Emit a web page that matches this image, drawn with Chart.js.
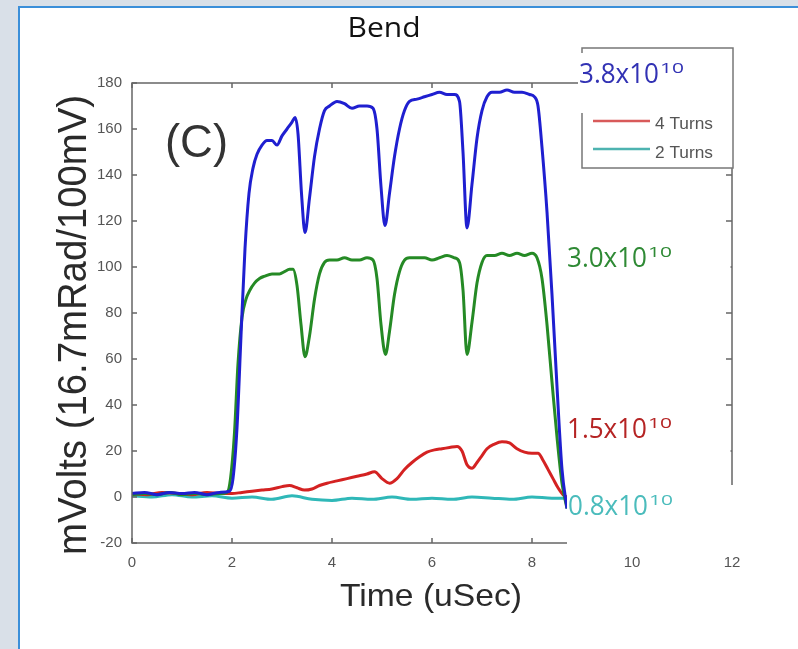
<!DOCTYPE html>
<html><head><meta charset="utf-8">
<script src="https://cdn.jsdelivr.net/npm/chart.js@4.4.1/dist/chart.umd.min.js"></script>
<style>html,body{margin:0;padding:0;background:#d9e0e8;overflow:hidden}canvas{display:block}</style>
</head><body>
<canvas id="c" width="798" height="649"></canvas>
<script>
// ---- data ----
const blueT = [0,0.25,0.5,0.75,1.0,1.25,1.5,1.75,1.95,2.02,2.1,2.18,2.26,2.34,2.42,2.5,2.6,2.7,2.8,2.9,3.0,3.1,3.2,3.26,3.32,3.39,3.46,3.55,3.65,3.75,3.85,3.95,4.1,4.25,4.4,4.55,4.7,4.82,4.9,4.98,5.06,5.15,5.25,5.35,5.45,5.55,5.7,5.85,6.0,6.15,6.3,6.45,6.55,6.62,6.7,6.8,6.9,7.0,7.1,7.2,7.35,7.5,7.65,7.8,7.95,8.05,8.12,8.2,8.3,8.4,8.5,8.6,8.7];
const blueV = [1.5,2,1,2,1.5,2,1,2,2.5,8,30,70,108,132,143,149,153,155,155,153,157,160,163,165,158,132,115,130,148,160,168,170,172,171,169,170,170,169,160,135,118,132,148,160,168,172,173,174,175,176,175,175,172,150,117,136,156,168,174,176,176,177,176,176,175,174,170,152,124,88,48,12,-5];
const greenT = [0,0.25,0.5,0.75,1.0,1.25,1.5,1.75,1.9,1.97,2.05,2.12,2.2,2.28,2.36,2.45,2.55,2.65,2.8,2.95,3.05,3.15,3.22,3.3,3.38,3.46,3.55,3.65,3.75,3.85,3.95,4.1,4.25,4.4,4.55,4.7,4.82,4.9,4.98,5.07,5.15,5.25,5.35,5.45,5.55,5.7,5.85,6.0,6.15,6.3,6.45,6.55,6.62,6.7,6.8,6.9,7.0,7.1,7.25,7.4,7.55,7.7,7.85,8.0,8.1,8.2,8.3,8.4,8.5,8.6,8.7];
const greenV = [1,1.5,1,2,1,1.5,1,1.5,2,8,28,58,78,86,90,93,95,96,97,97,98,99,99,92,75,61,70,86,97,102,103,103,104,103,103,104,103,95,75,62,72,88,98,103,104,104,104,103,104,105,104,102,90,62,76,93,102,105,105,106,105,106,105,106,104,95,75,50,26,6,-5];
const redT = [0,0.3,0.6,0.9,1.2,1.5,1.8,2.0,2.2,2.4,2.6,2.8,3.0,3.15,3.3,3.45,3.6,3.75,3.9,4.1,4.3,4.5,4.7,4.85,5.0,5.15,5.3,5.45,5.6,5.75,5.9,6.05,6.2,6.35,6.5,6.6,6.7,6.8,6.9,7.0,7.1,7.25,7.4,7.55,7.7,7.85,8.0,8.12,8.22,8.32,8.42,8.52,8.62,8.7];
const redV = [1.5,1,2,1.5,1,2,1.5,1.5,2,2.5,3,3.5,4.5,5,4,3,3.5,5,6,7,8,9,10,11,8,6,8,12,15,17.5,19.5,20.5,21,21.5,22,20,14,12.5,15,18,21,23,24,23.5,21,19.5,19,19,16,12,8,4,1,0];
const cyanT = [0,0.4,0.8,1.2,1.6,2.0,2.4,2.8,3.2,3.6,4.0,4.4,4.8,5.2,5.6,6.0,6.4,6.8,7.2,7.6,8.0,8.4,8.7];
const cyanV = [0.5,0,1,0,0.5,-0.5,0,-1,0.5,-1,-1.5,-0.5,-1,0,-1,-0.5,-1,0,-0.5,-1,0,-0.5,-0.5];

const xTickValues = [0,2,4,6,8,10,12];
const yTickValues = [-20,0,20,40,60,80,100,120,140,160,180];
const legendLabels = ["4 Turns","2 Turns"];
const annotationMantissa = ["3.8","3.0","1.5","0.8"];
const annotationExp = ["10","10","10","10"];
const titleText = "Bend";
const xTitle = "Time (uSec)";
const yTitle = "mVolts (16.7mRad/100mV)";
const panelLabel = "(C)";

function pts(t, v){ return t.map((x,i)=>({x:x, y:v[i]})); }

function fitText(ctx, txt, x, y, font, w, align){
  ctx.save();
  ctx.font = font;
  const m = ctx.measureText(txt).width;
  const s = w / m;
  ctx.translate(x, y);
  ctx.scale(s, 1);
  ctx.textAlign = 'left';
  ctx.textBaseline = 'alphabetic';
  ctx.fillText(txt, align === 'center' ? -m/2 : 0, 0);
  ctx.restore();
}

const bgPlugin = {
  id: 'bg',
  beforeDraw(chart){
    const ctx = chart.ctx;
    ctx.save();
    ctx.fillStyle = '#d9e0e8';
    ctx.fillRect(0,0,chart.width,chart.height);
    ctx.fillStyle = '#ffffff';
    ctx.fillRect(19,7,chart.width,chart.height);
    ctx.strokeStyle = '#3b8fd9';
    ctx.lineWidth = 2;
    ctx.beginPath();
    ctx.moveTo(19, chart.height+5); ctx.lineTo(19,7); ctx.lineTo(chart.width+5,7);
    ctx.stroke();
    ctx.restore();
  }
};

const annFont = '"Open Sans", "Noto Sans", sans-serif';

const overlayPlugin = {
  id: 'overlay',
  afterDraw(chart){
    const ctx = chart.ctx;
    const a = chart.chartArea;
    const xs = chart.scales.x, ys = chart.scales.y;
    ctx.save();
    // frame
    ctx.strokeStyle = '#666';
    ctx.lineWidth = 1.5;
    ctx.strokeRect(a.left, a.top, a.right-a.left, a.bottom-a.top);
    // inward ticks
    ctx.beginPath();
    xTickValues.forEach(v=>{
      const px = xs.getPixelForValue(v);
      ctx.moveTo(px, a.bottom); ctx.lineTo(px, a.bottom-5);
      ctx.moveTo(px, a.top); ctx.lineTo(px, a.top+5);
    });
    yTickValues.forEach(v=>{
      const py = ys.getPixelForValue(v);
      ctx.moveTo(a.left, py); ctx.lineTo(a.left+5, py);
      ctx.moveTo(a.right, py); ctx.lineTo(a.right-6, py);
    });
    ctx.stroke();

    // legend box
    ctx.fillStyle = '#fff';
    ctx.fillRect(582,48,151,120);
    ctx.strokeStyle = '#777';
    ctx.lineWidth = 1.5;
    ctx.strokeRect(582,48,151,120);
    ctx.lineWidth = 2.5;
    ctx.strokeStyle = '#d85a5a';
    ctx.beginPath(); ctx.moveTo(593,121); ctx.lineTo(650,121); ctx.stroke();
    ctx.strokeStyle = '#4db3b0';
    ctx.beginPath(); ctx.moveTo(593,149); ctx.lineTo(650,149); ctx.stroke();
    ctx.fillStyle = '#555';
    fitText(ctx, legendLabels[0], 655, 129, '17px "Liberation Sans", Arial', 58);
    fitText(ctx, legendLabels[1], 655, 158, '17px "Liberation Sans", Arial', 58);

    // white patches of the slide overlay
    ctx.fillStyle = '#fff';
    ctx.fillRect(578,53,154,60);
    ctx.fillRect(567,237,163.5,60);
    ctx.fillRect(567,410,163.5,58);
    ctx.fillRect(567,485,166,59);

    // annotations
    const ann = [
      {x:579, y:83, c:'#3232b4'},
      {x:567, y:267, c:'#2f8a35'},
      {x:567, y:438, c:'#b52424'},
      {x:568, y:515, c:'#4bbcbc'}
    ];
    ann.forEach((p,i)=>{
      ctx.fillStyle = p.c;
      fitText(ctx, annotationMantissa[i] + 'x10', p.x, p.y, '28px ' + annFont, 80);
      fitText(ctx, annotationExp[i], p.x+81, p.y-10, '15px ' + annFont, 24);
    });

    // title
    ctx.fillStyle = '#111';
    fitText(ctx, titleText, 384, 37, '28px ' + annFont, 73, 'center');

    // panel label
    ctx.fillStyle = '#333';
    fitText(ctx, panelLabel, 165, 157, '46px "Liberation Sans", Arial', 63);

    // axis titles
    ctx.fillStyle = '#2a2a2a';
    fitText(ctx, xTitle, 431, 606, '32px "Liberation Sans", Arial', 182, 'center');
    ctx.save();
    ctx.translate(86, 325);
    ctx.rotate(-Math.PI/2);
    fitText(ctx, yTitle, 0, 0, '40px "Liberation Sans", Arial', 460, 'center');
    ctx.restore();

    ctx.restore();
  }
};

const tickFont = {family:'"Liberation Sans", Arial', size:15};

new Chart(document.getElementById('c'), {
  type: 'line',
  data: {
    datasets: [
      {data: pts(blueT, blueV), borderColor:'#1f1fd0', borderWidth:3},
      {data: pts(greenT, greenV), borderColor:'#258a25', borderWidth:3},
      {data: pts(redT, redV), borderColor:'#d42222', borderWidth:3},
      {data: pts(cyanT, cyanV), borderColor:'#2fb8b8', borderWidth:3}
    ]
  },
  options: {
    responsive:false, animation:false, devicePixelRatio:1,
    elements:{point:{radius:0}, line:{cubicInterpolationMode:'monotone', fill:false}},
    layout:{padding:{left:0, top:83, right:66, bottom:0}},
    plugins:{legend:{display:false}, tooltip:{enabled:false}, title:{display:false}},
    scales:{
      x:{type:'linear', min:0, max:12,
        afterBuildTicks(s){ s.ticks = xTickValues.map(v=>({value:v})); },
        afterFit(s){ s.height = 106; },
        grid:{display:false, drawTicks:false}, border:{display:false},
        ticks:{padding:11, color:'#555', font:tickFont, maxRotation:0, autoSkip:false}},
      y:{type:'linear', min:-20, max:180,
        afterBuildTicks(s){ s.ticks = yTickValues.map(v=>({value:v})); },
        afterFit(s){ s.width = 132; },
        grid:{display:false, drawTicks:false}, border:{display:false},
        ticks:{padding:10, color:'#555', font:tickFont, autoSkip:false}}
    }
  },
  plugins:[bgPlugin, overlayPlugin]
});
</script>
</body></html>
